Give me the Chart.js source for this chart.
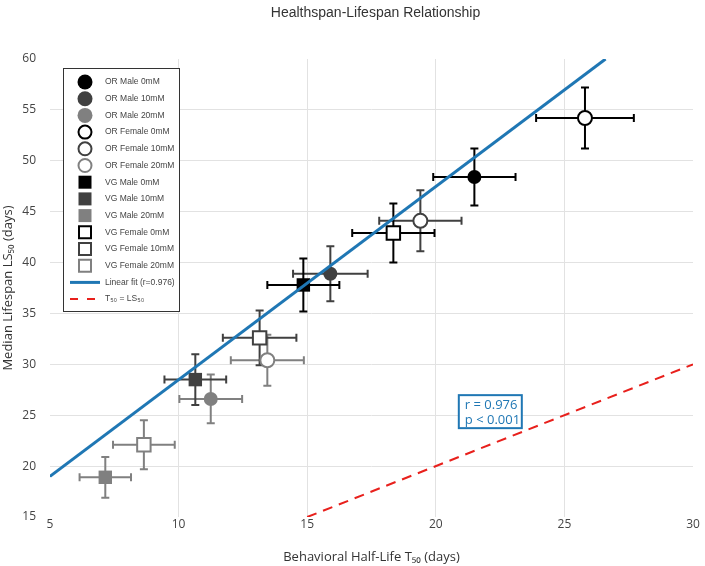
<!DOCTYPE html>
<html>
<head>
<meta charset="utf-8">
<script src="https://cdn.jsdelivr.net/npm/chart.js@4.4.1/dist/chart.umd.min.js"></script>
<style>
  html, body { margin: 0; padding: 0; background: #fff; }
</style>
</head>
<body>
<canvas id="chart" width="705" height="566"></canvas>
<script>
// groups, in legend order
let groups = ['OR Male 0mM', 'OR Male 10mM', 'OR Male 20mM',
              'OR Female 0mM', 'OR Female 10mM', 'OR Female 20mM',
              'VG Male 0mM', 'VG Male 10mM', 'VG Male 20mM',
              'VG Female 0mM', 'VG Female 10mM', 'VG Female 20mM'];
let halfLife    = [21.5, 15.9, 11.25, 25.8, 19.4, 13.45, 14.85, 10.65, 7.15, 18.35, 13.15, 8.65];
let halfLifeErr = [1.6, 1.45, 1.22, 1.9, 1.6, 1.42, 1.4, 1.2, 1.0, 1.6, 1.43, 1.2];
let lifespan    = [48.4, 38.9, 26.6, 54.2, 44.1, 30.4, 37.8, 28.5, 18.9, 42.9, 32.6, 22.1];
let lifespanErr = [2.8, 2.7, 2.4, 3.0, 3.0, 2.5, 2.6, 2.5, 2.0, 2.9, 2.7, 2.4];

let fitLabel = 'Linear fit (r=0.976)';
let fitX = [5, 26.6];
let fitY = [19.0, 60];
let identityLabel = 'T\u2085\u2080 = LS\u2085\u2080';
let identityX = [15, 30];
let identityY = [15, 30];

let xTicks = [5, 10, 15, 20, 25, 30];
let yTicks = [15, 20, 25, 30, 35, 40, 45, 50, 55, 60];

let statsText = ['r = 0.976', 'p < 0.001'];
let statsAt = [22.1, 25.4];

// looks
let doseColors = ['#000000', '#404040', '#808080'];
let blue = '#1f77b4';

function groupStyle(i) {
    let col = doseColors[i % 3];
    let shape = i < 6 ? 'circle' : 'rect';
    let open = Math.floor(i / 3) % 2 === 1;
    return {col: col, shape: shape, open: open};
}

let datasets = groups.map((g, i) => {
    let s = groupStyle(i);
    return {
        label: g,
        type: 'scatter',
        data: [{x: halfLife[i], y: lifespan[i]}],
        pointStyle: s.shape,
        pointRadius: s.shape === 'rect' ? 9.5 : 7,
        pointHoverRadius: s.shape === 'rect' ? 9.5 : 7,
        backgroundColor: s.open ? '#ffffff' : s.col,
        borderColor: s.col,
        borderWidth: s.open ? 2 : 0,
        order: 1
    };
});

datasets.push({
    label: fitLabel,
    type: 'line',
    data: fitX.map((x, i) => ({x: x, y: fitY[i]})),
    borderColor: blue,
    borderWidth: 3,
    pointRadius: 0,
    fill: false,
    order: 0
});
datasets.push({
    label: identityLabel,
    type: 'line',
    data: identityX.map((x, i) => ({x: x, y: identityY[i]})),
    borderColor: '#e8201c',
    borderWidth: 2,
    borderDash: [10, 7],
    pointRadius: 0,
    fill: false,
    order: 0
});

function drawMarker(ctx, i, x, y) {
    let s = groupStyle(i);
    ctx.save();
    ctx.fillStyle = s.open ? '#ffffff' : s.col;
    ctx.strokeStyle = s.col;
    ctx.lineWidth = 2;
    ctx.beginPath();
    if (s.shape === 'circle') {
        ctx.arc(x, y, s.open ? 6.5 : 7.5, 0, Math.PI * 2);
    } else {
        let h = s.open ? 6 : 6.5;
        ctx.rect(x - h, y - h, 2 * h, 2 * h);
    }
    ctx.fill();
    if (s.open) ctx.stroke();
    ctx.restore();
}

let errorBars = {
    id: 'errorBars',
    beforeDatasetsDraw(chart) {
        let ctx = chart.ctx;
        let xs = chart.scales.x, ys = chart.scales.y;
        ctx.save();
        ctx.lineWidth = 2;
        groups.forEach((g, i) => {
            let cx = xs.getPixelForValue(halfLife[i]);
            let cy = ys.getPixelForValue(lifespan[i]);
            let x0 = xs.getPixelForValue(halfLife[i] - halfLifeErr[i]);
            let x1 = xs.getPixelForValue(halfLife[i] + halfLifeErr[i]);
            let y0 = ys.getPixelForValue(lifespan[i] - lifespanErr[i]);
            let y1 = ys.getPixelForValue(lifespan[i] + lifespanErr[i]);
            ctx.strokeStyle = groupStyle(i).col;
            ctx.beginPath();
            ctx.moveTo(x0, cy); ctx.lineTo(x1, cy);
            ctx.moveTo(x0, cy - 4); ctx.lineTo(x0, cy + 4);
            ctx.moveTo(x1, cy - 4); ctx.lineTo(x1, cy + 4);
            ctx.moveTo(cx, y0); ctx.lineTo(cx, y1);
            ctx.moveTo(cx - 4, y0); ctx.lineTo(cx + 4, y0);
            ctx.moveTo(cx - 4, y1); ctx.lineTo(cx + 4, y1);
            ctx.stroke();
        });
        ctx.restore();
    }
};

let extras = {
    id: 'extras',
    afterDraw(chart) {
        let ctx = chart.ctx;
        let area = chart.chartArea;
        let xs = chart.scales.x, ys = chart.scales.y;

        // title, centred on the plot area
        ctx.save();
        ctx.fillStyle = '#333';
        ctx.font = '14px "Liberation Sans", Arial, sans-serif';
        ctx.textAlign = 'center';
        ctx.textBaseline = 'middle';
        ctx.fillText('Healthspan-Lifespan Relationship', (area.left + area.right) / 2 + 4, 13);
        ctx.restore();

        // stats box
        let sx = xs.getPixelForValue(statsAt[0]);
        let sy = ys.getPixelForValue(statsAt[1]);
        ctx.save();
        ctx.font = '13px "Open Sans", sans-serif';
        ctx.fillStyle = '#fff';
        ctx.fillRect(sx - 31, sy - 16, 63, 33);
        ctx.strokeStyle = blue;
        ctx.lineWidth = 2;
        ctx.strokeRect(sx - 31, sy - 16, 63, 33);
        ctx.fillStyle = blue;
        ctx.textAlign = 'left';
        ctx.textBaseline = 'middle';
        ctx.fillText(statsText[0], sx - 25, sy - 6);
        ctx.fillText(statsText[1], sx - 25, sy + 9);
        ctx.restore();

        // legend box inside the plot
        let lx = 63, ly = 68, lw = 116, lh = 243;
        ctx.save();
        ctx.fillStyle = '#fff';
        ctx.fillRect(lx, ly, lw, lh);
        ctx.strokeStyle = '#333';
        ctx.lineWidth = 1;
        ctx.strokeRect(lx + 0.5, ly + 0.5, lw, lh);
        ctx.font = '8.5px "Liberation Sans", Arial, sans-serif';
        ctx.textBaseline = 'middle';
        let rowH = 16.7;
        groups.forEach((g, i) => {
            let y = ly + 14 + i * rowH;
            drawMarker(ctx, i, 85, y);
            ctx.fillStyle = '#444';
            ctx.fillText(g, 105, y);
        });
        let yFit = ly + 14 + 12 * rowH;
        ctx.strokeStyle = blue;
        ctx.lineWidth = 3;
        ctx.beginPath(); ctx.moveTo(70, yFit); ctx.lineTo(100, yFit); ctx.stroke();
        ctx.fillStyle = '#444';
        ctx.fillText(fitLabel, 105, yFit);
        let yId = ly + 14 + 13 * rowH;
        ctx.strokeStyle = '#e8201c';
        ctx.lineWidth = 2;
        ctx.setLineDash([8, 9]);
        ctx.beginPath(); ctx.moveTo(70, yId); ctx.lineTo(97, yId); ctx.stroke();
        ctx.setLineDash([]);
        ctx.fillText(identityLabel, 105, yId);
        ctx.restore();
    }
};

function innerGrid(values) {
    return (c) => {
        let v = c.tick ? c.tick.value : null;
        if (v === values[0] || v === values[values.length - 1]) return 'rgba(0,0,0,0)';
        return '#e2e2e2';
    };
}

let chart = new Chart(document.getElementById('chart'), {
    type: 'scatter',
    data: {datasets: datasets},
    options: {
        responsive: false,
        animation: false,
        devicePixelRatio: 1,
        layout: {padding: {top: 59, right: 12, left: 0, bottom: 0}},
        plugins: {
            legend: {display: false},
            tooltip: {enabled: false},
            title: {display: false}
        },
        scales: {
            x: {
                type: 'linear',
                min: xTicks[0], max: xTicks[xTicks.length - 1],
                afterBuildTicks: (s) => { s.ticks = xTicks.map(v => ({value: v})); },
                border: {display: false},
                grid: {color: innerGrid(xTicks), drawTicks: false, lineWidth: 1},
                ticks: {padding: 0, color: '#444', font: {family: 'Open Sans', size: 12}},
                title: {display: true, text: 'Behavioral Half-Life T\u2085\u2080 (days)', color: '#333',
                        font: {family: 'Open Sans', size: 13}, padding: {top: 0, bottom: 1}},
                afterFit: (s) => { s.height = 49; }
            },
            y: {
                type: 'linear',
                min: yTicks[0], max: yTicks[yTicks.length - 1],
                afterBuildTicks: (s) => { s.ticks = yTicks.map(v => ({value: v})); },
                border: {display: false},
                grid: {color: innerGrid(yTicks), drawTicks: false, lineWidth: 1},
                ticks: {padding: 14, color: '#444', font: {family: 'Open Sans', size: 12}},
                title: {display: true, text: 'Median Lifespan LS\u2085\u2080 (days)', color: '#333',
                        font: {family: 'Open Sans', size: 13}, padding: 0},
                afterFit: (s) => { s.width = 50; }
            }
        }
    },
    plugins: [errorBars, extras]
});
</script>
</body>
</html>
